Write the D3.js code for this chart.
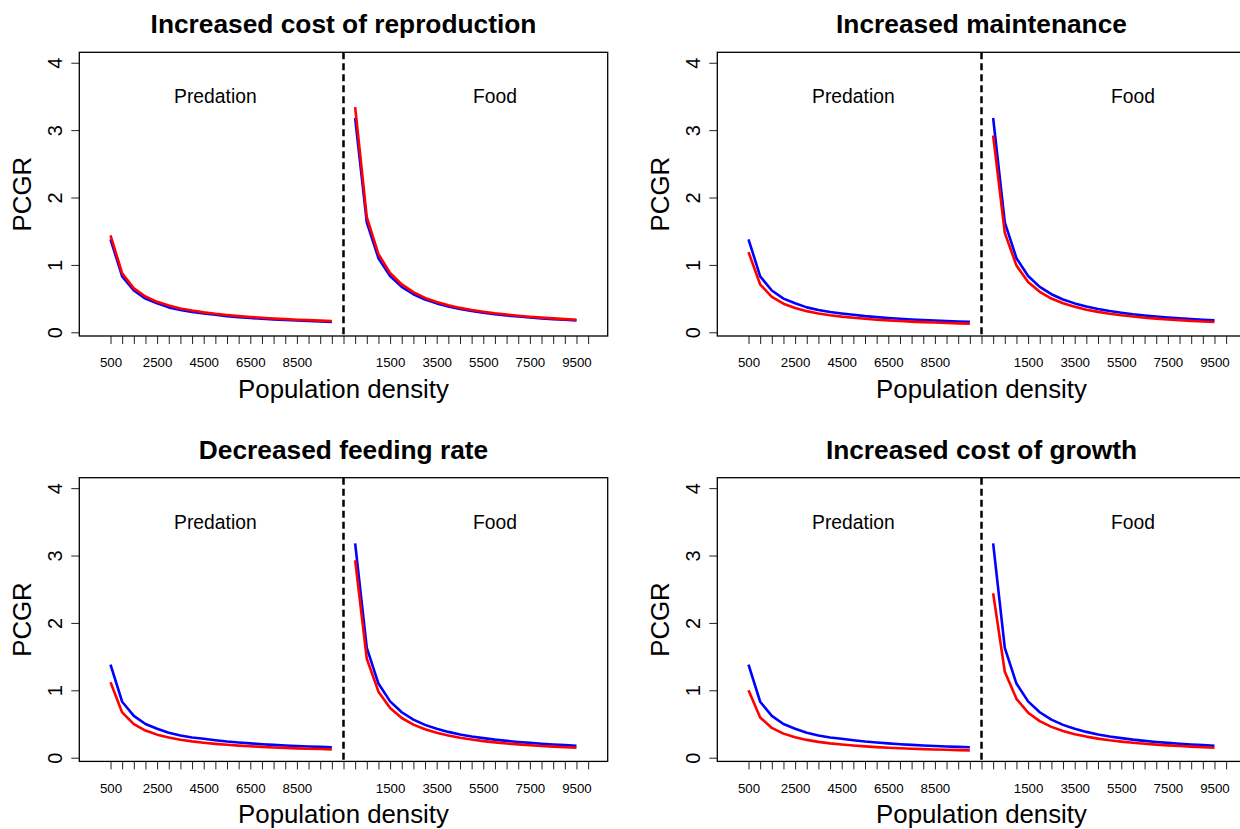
<!DOCTYPE html>
<html>
<head>
<meta charset="utf-8">
<script src="https://cdnjs.cloudflare.com/ajax/libs/d3/7.8.5/d3.min.js"></script>
<style>
  html, body { margin: 0; padding: 0; background: #fff; }
  svg { display: block; font-family: "Liberation Sans", Arial, Helvetica, sans-serif; }
</style>
</head>
<body>
<svg id="chart" width="1240" height="829"></svg>
<script>
// Panel titles (row by row)
const panelTitles = [
  "Increased cost of reproduction",
  "Increased maintenance",
  "Decreased feeding rate",
  "Increased cost of growth"
];

// Density tick labels for the two regimes
const predationDensity = [500, 1000, 1500, 2000, 2500, 3000, 3500, 4000, 4500, 5000,
  5500, 6000, 6500, 7000, 7500, 8000, 8500, 9000, 9500, 10000];
const foodDensity = [0, 500, 1000, 1500, 2000, 2500, 3000, 3500, 4000, 4500, 5000,
  5500, 6000, 6500, 7000, 7500, 8000, 8500, 9000, 9500, 10000];

// Baseline PCGR (blue), shared by every panel
const baselinePredation = [1.38, 0.83, 0.62, 0.50, 0.43, 0.37, 0.33, 0.30, 0.28, 0.26,
  0.24, 0.225, 0.212, 0.20, 0.19, 0.182, 0.174, 0.167, 0.161, 0.155];
const baselineFood = [3.18, 1.63, 1.10, 0.836, 0.674, 0.565, 0.487, 0.429, 0.383, 0.345,
  0.315, 0.290, 0.268, 0.250, 0.234, 0.220, 0.207, 0.196, 0.186, 0.177];

// Treatment PCGR (red), one pair per panel
const reproductionPredation = [1.44, 0.874, 0.652, 0.531, 0.452, 0.396, 0.354, 0.323, 0.296, 0.274,
  0.256, 0.240, 0.227, 0.215, 0.205, 0.196, 0.187, 0.180, 0.173, 0.167];
const reproductionFood = [3.34, 1.71, 1.16, 0.88, 0.71, 0.595, 0.51, 0.45, 0.40, 0.362,
  0.33, 0.305, 0.282, 0.263, 0.246, 0.231, 0.218, 0.206, 0.196, 0.186];
const maintenancePredation = [1.19, 0.710, 0.526, 0.424, 0.360, 0.314, 0.280, 0.253, 0.232, 0.215,
  0.200, 0.187, 0.177, 0.167, 0.159, 0.151, 0.145, 0.139, 0.133, 0.128];
const maintenanceFood = [2.92, 1.476, 0.990, 0.747, 0.600, 0.501, 0.430, 0.378, 0.336, 0.303,
  0.276, 0.253, 0.234, 0.217, 0.203, 0.191, 0.180, 0.170, 0.161, 0.153];
const feedingPredation = [1.12, 0.672, 0.498, 0.403, 0.342, 0.299, 0.267, 0.242, 0.222, 0.205,
  0.191, 0.179, 0.169, 0.160, 0.152, 0.145, 0.139, 0.133, 0.128, 0.123];
const feedingFood = [2.93, 1.468, 0.980, 0.736, 0.589, 0.491, 0.421, 0.369, 0.328, 0.295,
  0.269, 0.246, 0.227, 0.211, 0.197, 0.185, 0.174, 0.164, 0.156, 0.148];
const growthPredation = [1.00, 0.597, 0.442, 0.357, 0.302, 0.264, 0.235, 0.213, 0.195, 0.180,
  0.168, 0.157, 0.148, 0.140, 0.133, 0.127, 0.122, 0.117, 0.112, 0.108];
const growthFood = [2.44, 1.276, 0.874, 0.668, 0.542, 0.457, 0.396, 0.349, 0.313, 0.283,
  0.259, 0.239, 0.222, 0.207, 0.194, 0.183, 0.173, 0.164, 0.155, 0.148];

const yTicks = [0, 1, 2, 3, 4];
const regimeLabels = ["Predation", "Food"];

const treatmentPredation = [reproductionPredation, maintenancePredation, feedingPredation, growthPredation];
const treatmentFood = [reproductionFood, maintenanceFood, feedingFood, growthFood];

// Axis positions: predation points at 1..20, separator at 21, food points at 22..41
const tickLabels = [...predationDensity.map(String), "", ...foodDensity.map(String)];
const tickPositions = tickLabels.map((_, i) => i + 1);
const separatorPos = predationDensity.length + 1;
const predPos = i => i + 1;
const foodPos = i => separatorPos + 1 + i;

// Layout
const boxW = 528.4, boxH = 283.7;
const colLeft = [79.3, 717.3];
const rowTop = [52.3, 477.7];

const svg = d3.select("#chart");
svg.append("rect").attr("width", 1240).attr("height", 829).attr("fill", "#fff");

panelTitles.forEach((title, p) => {
  const left = colLeft[p % 2];
  const top = rowTop[Math.floor(p / 2)];
  const bottom = top + boxH;

  const x = d3.scaleLinear().domain([-1.68, 43.68]).range([left, left + boxW]);
  const y = d3.scaleLinear().domain([-0.055, 4.155]).range([bottom, top]);

  const g = svg.append("g");

  // Title
  g.append("text")
    .attr("x", left + boxW / 2).attr("y", top - 19)
    .attr("text-anchor", "middle")
    .attr("font-weight", "bold").attr("font-size", 26.3)
    .text(title);

  // Bottom axis: ticks at every position, every fourth label shown
  const xAxis = d3.axisBottom(x)
    .tickValues(tickPositions)
    .tickSize(8).tickSizeOuter(0).tickPadding(14)
    .tickFormat((d, i) => (i % 4 === 0 ? tickLabels[i] : ""));
  const xg = g.append("g").attr("transform", `translate(0,${bottom})`).call(xAxis);
  xg.select(".domain").remove();
  xg.selectAll(".tick line").attr("stroke", "#222").attr("stroke-width", 1);
  xg.selectAll(".tick text").attr("font-size", 13.3).attr("fill", "#000")
    .attr("font-family", "Liberation Sans, Arial, sans-serif");

  // Left axis with rotated labels
  const yAxis = d3.axisLeft(y).tickValues(yTicks).tickSize(8).tickSizeOuter(0).tickFormat(d3.format("d"));
  const yg = g.append("g").attr("transform", `translate(${left},0)`).call(yAxis);
  yg.select(".domain").remove();
  yg.selectAll(".tick line").attr("stroke", "#222").attr("stroke-width", 1);
  yg.selectAll(".tick text")
    .attr("x", null).attr("dy", null)
    .attr("text-anchor", "middle")
    .attr("font-size", 20).attr("fill", "#000")
    .attr("font-family", "Liberation Sans, Arial, sans-serif")
    .attr("transform", "translate(-17.6,0) rotate(-90)");

  // Axis titles
  g.append("text")
    .attr("x", left + boxW / 2).attr("y", bottom + 61.6)
    .attr("text-anchor", "middle").attr("font-size", 25.8)
    .text("Population density");
  g.append("text")
    .attr("transform", `translate(${left - 48.5},${(top + bottom) / 2}) rotate(-90)`)
    .attr("text-anchor", "middle").attr("font-size", 25.8)
    .text("PCGR");

  // Regime labels
  g.append("text")
    .attr("x", x(10)).attr("y", y(3.5) + 7)
    .attr("text-anchor", "middle").attr("font-size", 19.3)
    .text(regimeLabels[0]);
  g.append("text")
    .attr("x", x(34)).attr("y", y(3.5) + 7)
    .attr("text-anchor", "middle").attr("font-size", 19.3)
    .text(regimeLabels[1]);

  // Separator between predation and food regimes
  g.append("line")
    .attr("x1", x(separatorPos)).attr("x2", x(separatorPos))
    .attr("y1", top).attr("y2", bottom)
    .attr("stroke", "#000").attr("stroke-width", 2.5)
    .attr("stroke-dasharray", "7,4");

  const line = d3.line().x(d => x(d[0])).y(d => y(d[1]));
  const series = [
    { pred: baselinePredation, food: baselineFood, color: "#0000ff" },
    { pred: treatmentPredation[p], food: treatmentFood[p], color: "#ff0000" }
  ];
  series.forEach(s => {
    g.append("path")
      .datum(s.pred.map((v, i) => [predPos(i), v]))
      .attr("d", line).attr("fill", "none")
      .attr("stroke", s.color).attr("stroke-width", 2.6).attr("stroke-linejoin", "round");
    g.append("path")
      .datum(s.food.map((v, i) => [foodPos(i), v]))
      .attr("d", line).attr("fill", "none")
      .attr("stroke", s.color).attr("stroke-width", 2.6).attr("stroke-linejoin", "round");
  });

  // Plot box
  g.append("rect")
    .attr("x", left).attr("y", top).attr("width", boxW).attr("height", boxH)
    .attr("fill", "none").attr("stroke", "#000").attr("stroke-width", 1.3);
});
</script>
</body>
</html>
